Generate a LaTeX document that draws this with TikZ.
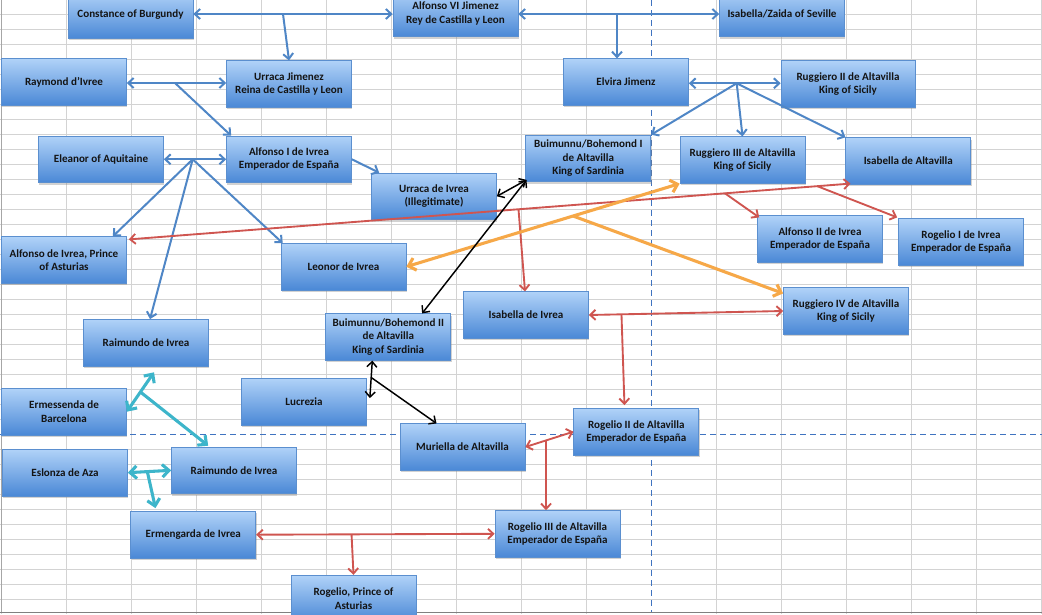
\documentclass[tikz,border=0pt]{standalone}
\usepackage{fontspec}
\setmainfont{Carlito}
\usetikzlibrary{arrows.meta,calc,shadows}
\definecolor{gridc}{HTML}{D3D3D3}
\definecolor{pbreak}{HTML}{3F73C0}
\definecolor{boxtop}{HTML}{B0D2F8}
\definecolor{boxbot}{HTML}{4A88D6}
\definecolor{boxedge}{HTML}{5B8FCF}
\definecolor{cblue}{HTML}{4F86C6}
\definecolor{cred}{HTML}{CF5550}
\definecolor{corange}{HTML}{F6A848}
\definecolor{ccyan}{HTML}{3DB5CA}
\tikzset{
  person/.style={draw=boxedge, line width=0.5pt, top color=boxtop, bottom color=boxbot,
    minimum width=93.75pt, minimum height=34.9pt, inner sep=1pt, align=center,
    font=\fontsize{8.3pt}{10pt}\selectfont\bfseries, text=black!92,
    drop shadow={opacity=0.35, shadow xshift=0.6pt, shadow yshift=-1.5pt}},
  bl/.style={draw=cblue, line width=1.5pt},
  rd/.style={draw=cred, line width=1.4pt},
  og/.style={draw=corange, line width=2.3pt, >={Straight Barb[length=5pt,width=9.5pt]}},
  cy/.style={draw=ccyan, line width=2.3pt, >={Straight Barb[length=5pt,width=9.5pt]}},
  bk/.style={draw=black, line width=1.1pt},
  gridline/.style={draw=gridc, line width=0.75pt},
  pagebreak/.style={draw=pbreak, line width=0.8pt, dash pattern=on 4.5pt off 3pt}
}
\begin{document}
\begin{tikzpicture}[x=0.75pt,y=-0.75pt,>={Straight Barb[length=4pt,width=7.5pt]}]
\useasboundingbox (0,0) rectangle (1042,614);
\clip (0,0) rectangle (1042,614);
\fill[white] (0,0) rectangle (1042,614);
% spreadsheet grid (page-break rows/columns left to the dashed lines)
\foreach \k in {0,...,28,30,31,...,40} \draw[gridline] (0,{-0.7+15*\k}) -- (1042,{-0.7+15*\k});
\foreach \k in {0,...,9,11,12,...,16} \draw[gridline] ({1.7+65*\k},0) -- ({1.7+65*\k},614);
\draw[gray!70, line width=1pt] (1.7,0) -- (1.7,612);
\draw[gray, line width=1.2pt] (0,612.3) -- (1042,612.3);
\draw[pagebreak] (651.7,0) -- (651.7,612);
\draw[pagebreak] (0,434.3) -- (1042,434.3);
% people
\node[person] (constance) at (130.5,15) {Constance of Burgundy};
\node[person] (alfonsoVI) at (455.5,13.5) {Alfonso VI Jimenez\\Rey de Castilla y Leon};
\node[person] (isabellaZ) at (782,13.5) {Isabella/Zaida of Seville};
\node[person] (raymond) at (64,82) {Raymond d'Ivree};
\node[person] (urracaJ) at (289,84) {Urraca Jimenez\\Reina de Castilla y Leon};
\node[person] (elvira) at (626,82) {Elvira Jimenz};
\node[person, minimum width=100.5pt] (ruggieroII) at (848,84) {Ruggiero II de Altavilla\\King of Sicily};
\node[person] (eleanor) at (101,159.3) {Eleanor of Aquitaine};
\node[person] (alfonsoI) at (289,159.3) {Alfonso I de Ivrea\\Emperador de España};
\node[person] (urracaI) at (434,196.3) {Urraca de Ivrea\\(Illegitimate)};
\node[person] (buimunnuI) at (588.3,158.3) {Buimunnu/Bohemond I\\de Altavilla\\King of Sardinia};
\node[person] (ruggieroIII) at (742.5,160) {Ruggiero III de Altavilla\\King of Sicily};
\node[person] (isabellaA) at (908.3,161) {Isabella de Altavilla};
\node[person] (alfonsoP) at (64,260) {Alfonso de Ivrea, Prince\\of Asturias};
\node[person] (leonor) at (343.5,266.7) {Leonor de Ivrea};
\node[person] (alfonsoII) at (820,239) {Alfonso II de Ivrea\\Emperador de España};
\node[person] (rogelioI) at (961,242) {Rogelio I de Ivrea\\Emperador de España};
\node[person] (isabellaI) at (526,315) {Isabella de Ivrea};
\node[person] (ruggieroIV) at (846,311) {Ruggiero IV de Altavilla\\King of Sicily};
\node[person] (raimundoA) at (146,342.7) {Raimundo de Ivrea};
\node[person] (buimunnuII) at (388.3,337) {Buimunnu/Bohemond II\\de Altavilla\\King of Sardinia};
\node[person] (lucrezia) at (304,401.7) {Lucrezia};
\node[person] (ermessenda) at (64,411.7) {Ermessenda de\\Barcelona};
\node[person] (muriella) at (462.5,447) {Muriella de Altavilla};
\node[person] (rogelioII) at (636.3,431.7) {Rogelio II de Altavilla\\Emperador de España};
\node[person] (eslonza) at (65,472.7) {Eslonza de Aza};
\node[person] (raimundoB) at (234,470.3) {Raimundo de Ivrea};
\node[person] (ermengarda) at (193.3,534.7) {Ermengarda de Ivrea};
\node[person] (rogelioIII) at (557.5,533.8) {Rogelio III de Altavilla\\Emperador de España};
\node[person] (rogelioP) at (353.5,598.5) {Rogelio, Prince of\\Asturias};
% blue connectors
\coordinate (j1) at (283,14);
\coordinate (j2) at (617,14);
\draw[bl,<->] (constance.east |- j1) -- (alfonsoVI.west |- j1);
\draw[bl,<->] (alfonsoVI.east |- j1) -- (isabellaZ.west |- j1);
\draw[bl,->] (j1) -- (urracaJ.north);
\draw[bl,->] (j2) -- (j2 |- elvira.north);
\coordinate (j3) at (175,83);
\draw[bl,<->] (raymond.east |- j3) -- (urracaJ.west |- j3);
\draw[bl,->] (j3) -- ($(alfonsoI.north west)+(5,0)$);
\coordinate (j4) at (192.7,159.3);
\draw[bl,<->] (eleanor.east) -- (alfonsoI.west);
\draw[bl,->] (j4) -- ($(alfonsoP.north east)+(-14,0)$);
\draw[bl,->] (j4) -- ($(raimundoA.north)+(4,0)$);
\draw[bl,->] (j4) -- ($(leonor.north west)+(2,0)$);
\draw[bl,->] (alfonsoI.east) -- ($(urracaI.north west)+(8,0)$);
\coordinate (j5) at (736.7,83.3);
\draw[bl,<->] (elvira.east |- j5) -- (ruggieroII.west |- j5);
\draw[bl,->] (j5) -- (buimunnuI.north east);
\draw[bl,->] (j5) -- (ruggieroIII.north);
\draw[bl,->] (j5) -- (isabellaA.north west);
% red connectors
\coordinate (r1a) at ($(isabellaA.south west)+(5,-1)$);
\coordinate (r1b) at ($(alfonsoP.north east)+(2,3)$);
\draw[rd,<->] (r1a) -- (r1b);
\draw[rd,->] ($(r1a)!0.174!(r1b)$) -- ($(alfonsoII.north west)+(2,2)$);
\draw[rd,->] ($(r1a)!0.046!(r1b)$) -- ($(rogelioI.north west)+(-1,-1)$);
\draw[rd,->] ($(r1a)!0.46!(r1b)$) -- ($(isabellaI.north)+(-1,0)$);
\draw[rd,<->] (isabellaI.east) -- (ruggieroIV.west);
\draw[rd,->] ($(isabellaI.east)!0.168!(ruggieroIV.west)$) -- ($(rogelioII.north west)+(51,-3)$);
\draw[rd,<->] (muriella.east) -- (rogelioII.west);
\coordinate (j10) at ($(muriella.east)!0.43!(rogelioII.west)$);
\draw[rd,->] (j10) -- (j10 |- rogelioIII.north);
\draw[rd,<->] (ermengarda.east) -- (rogelioIII.west);
\coordinate (j11) at ($(ermengarda.east)!0.4!(rogelioIII.west)$);
\draw[rd,->] (j11) -- (rogelioP.north);
% orange connectors
\draw[og,<->] (ruggieroIII.south west) -- (leonor.east);
\draw[og,->] ($(ruggieroIII.south west)!0.39!(leonor.east)$) -- ($(ruggieroIV.north west)+(0,6)$);
% black connectors
\coordinate (k1) at ($(buimunnuI.south west)+(1,-2)$);
\draw[bk,<->] (urracaI.east) -- (k1);
\draw[bk,<->] (k1) -- ($(buimunnuII.north east)+(-29,0)$);
\coordinate (k3a) at ($(buimunnuII.south)+(-16,0)$);
\coordinate (k3b) at ($(lucrezia.north east)+(3,20)$);
\draw[bk,<->] (k3a) -- (k3b);
\draw[bk,->] ($(k3a)!0.45!(k3b)$) -- ($(muriella.north)+(-26,0)$);
% cyan connectors
\coordinate (c1a) at ($(raimundoA.south)+(8,6)$);
\draw[cy,<->] (c1a) -- (ermessenda.east);
\draw[cy,->] ($(c1a)!0.5!(ermessenda.east)$) -- ($(raimundoB.north west)+(37,-1)$);
\draw[cy,<->] (eslonza.east) -- (raimundoB.west);
\draw[cy,->] ($(eslonza.east)!0.45!(raimundoB.west)$) -- ($(ermengarda.north west)+(25,-3)$);
\end{tikzpicture}
\end{document}
